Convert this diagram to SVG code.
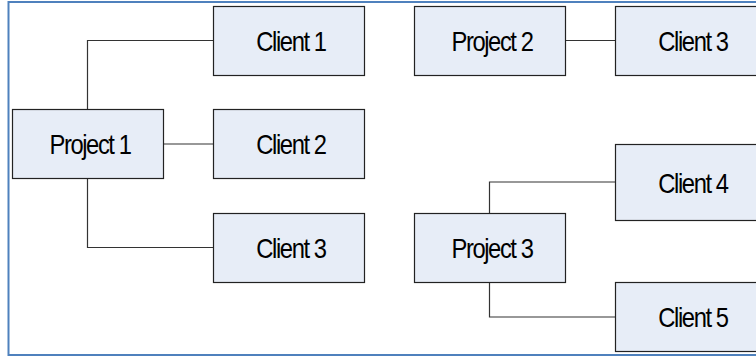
<svg xmlns="http://www.w3.org/2000/svg" width="756" height="356" viewBox="0 0 756 356">
<style>
.box{fill:#E7EDF7;stroke:#222;stroke-width:1.2}
.lbl{font-family:"Liberation Sans",Arial,sans-serif;font-size:27px;fill:#000;text-anchor:middle;letter-spacing:-1.6px}
.con{fill:none;stroke:#333;stroke-width:1.2}
.frame{fill:none;stroke:#4F81BD;stroke-width:2}
</style>
<rect width="756" height="356" fill="#fff"/>
<path class="frame" d="M758,2 H8.5 V355 H758"/>
<g id="connectors">
<path class="con" d="M87.5,109 V40.5 H213"/>
<path class="con" d="M163,144 H213"/>
<path class="con" d="M87.5,178 V247.5 H213"/>
<path class="con" d="M565,40.5 H615"/>
<path class="con" d="M489.5,213 V182 H615"/>
<path class="con" d="M489.5,283 V317 H615"/>
</g>
<g id="project1"><rect class="box" x="12.5" y="109.5" width="151" height="69"/><text class="lbl" transform="translate(90,154) scale(0.88,1)">Project 1</text></g>
<g id="client1"><rect class="box" x="213.5" y="6.5" width="151" height="69"/><text class="lbl" transform="translate(291,51) scale(0.88,1)">Client 1</text></g>
<g id="client2"><rect class="box" x="213.5" y="109.5" width="151" height="69"/><text class="lbl" transform="translate(291,154) scale(0.88,1)">Client 2</text></g>
<g id="client3a"><rect class="box" x="213.5" y="213.5" width="151" height="69"/><text class="lbl" transform="translate(291,258) scale(0.88,1)">Client 3</text></g>
<g id="project2"><rect class="box" x="414.5" y="6.5" width="151" height="69"/><text class="lbl" transform="translate(492,51) scale(0.88,1)">Project 2</text></g>
<g id="client3b"><rect class="box" x="615.5" y="6.5" width="151" height="69"/><text class="lbl" transform="translate(693,51) scale(0.88,1)">Client 3</text></g>
<g id="client4"><rect class="box" x="615.5" y="144.5" width="151" height="76"/><text class="lbl" transform="translate(693,192.5) scale(0.88,1)">Client 4</text></g>
<g id="project3"><rect class="box" x="414.5" y="213.5" width="151" height="69"/><text class="lbl" transform="translate(492,258) scale(0.88,1)">Project 3</text></g>
<g id="client5"><rect class="box" x="615.5" y="282.5" width="151" height="69"/><text class="lbl" transform="translate(693,327) scale(0.88,1)">Client 5</text></g>
</svg>
